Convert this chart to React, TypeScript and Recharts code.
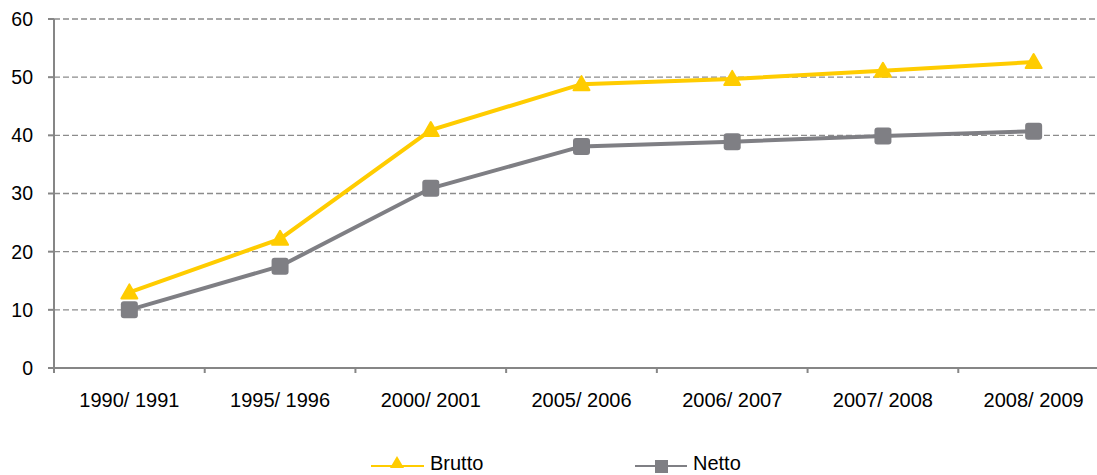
import { LineChart, Line, XAxis, YAxis, CartesianGrid } from "recharts"

const years = ["1990/ 1991", "1995/ 1996", "2000/ 2001", "2005/ 2006", "2006/ 2007", "2007/ 2008", "2008/ 2009"]
const brutto = [13, 22.2, 40.9, 48.8, 49.7, 51.1, 52.6]
const netto = [10, 17.5, 30.9, 38.1, 38.9, 39.9, 40.7]
const yTicks = [0, 10, 20, 30, 40, 50, 60]

const data = years.map((year, i) => ({ year, brutto: brutto[i], netto: netto[i] }))

const YELLOW = "#FFCC00"
const GRAY = "#7F7F84"
const AXIS = "#868686"
const FONT = "'Liberation Sans', Arial, sans-serif"

const W = 1109
const H = 475
const LEFT = 54
const BAND = (W - LEFT) / years.length

function Triangle(props: any) {
  const { cx, cy } = props
  if (cx == null || cy == null) return null
  return <path d={`M${cx},${cy - 8} L${cx + 8},${cy + 6} L${cx - 8},${cy + 6} Z`} fill={YELLOW} stroke={YELLOW} strokeWidth={2} strokeLinejoin="round" />
}

function Square(props: any) {
  const { cx, cy } = props
  if (cx == null || cy == null) return null
  return <rect x={cx - 8.5} y={cy - 8.5} width={17} height={17} rx={3} fill={GRAY} />
}

function XTick(props: any) {
  const { x, y, payload } = props
  return (
    <g>
      <line x1={x - BAND / 2} x2={x - BAND / 2} y1={y} y2={y + 5} stroke={AXIS} strokeWidth={2} />
      <text x={x} y={y + 39} textAnchor="middle" fontSize={20} fill="#000" fontFamily={FONT}>
        {payload.value}
      </text>
    </g>
  )
}

export default function App() {
  return (
    <div style={{ position: "absolute", left: 0, top: 0, width: 1097, height: 475, overflow: "hidden", background: "#fff" }}>
      <LineChart width={W} height={H} data={data} margin={{ top: 19, right: 0, left: 0, bottom: 67 }}>
        <CartesianGrid vertical={false} stroke="#8C8C8C" strokeDasharray="6 3" strokeWidth={1.3} />
        <XAxis
          dataKey="year"
          height={40}
          tickSize={0}
          tickMargin={0}
          tickLine={false}
          padding={{ left: BAND / 2, right: BAND / 2 }}
          axisLine={{ stroke: AXIS, strokeWidth: 2 }}
          tick={<XTick />}
          interval={0}
        />
        <YAxis
          width={LEFT}
          domain={[0, 60]}
          ticks={yTicks}
          tickSize={6}
          tickMargin={15}
          tickLine={{ stroke: AXIS, strokeWidth: 2 }}
          axisLine={{ stroke: AXIS, strokeWidth: 2 }}
          tick={{ fontSize: 19.5, fill: "#000", fontFamily: FONT }}
        />
        <Line dataKey="brutto" stroke={YELLOW} strokeWidth={4} dot={<Triangle />} isAnimationActive={false} />
        <Line dataKey="netto" stroke={GRAY} strokeWidth={4} dot={<Square />} isAnimationActive={false} />
      </LineChart>
      <svg style={{ position: "absolute", left: 0, top: 448 }} width={1097} height={27}>
        <line x1={371} x2={424} y1={18} y2={18} stroke={YELLOW} strokeWidth={2} />
        <path d="M397,8 L404,20 L390,20 Z" fill={YELLOW} />
        <text x={430} y={22} fontSize={20} fontFamily={FONT} fill="#000">Brutto</text>
        <line x1={635} x2={687} y1={18} y2={18} stroke={GRAY} strokeWidth={2} />
        <rect x={655} y={12} width={13} height={13} fill={GRAY} />
        <text x={693} y={22} fontSize={20} fontFamily={FONT} fill="#000">Netto</text>
      </svg>
    </div>
  )
}
